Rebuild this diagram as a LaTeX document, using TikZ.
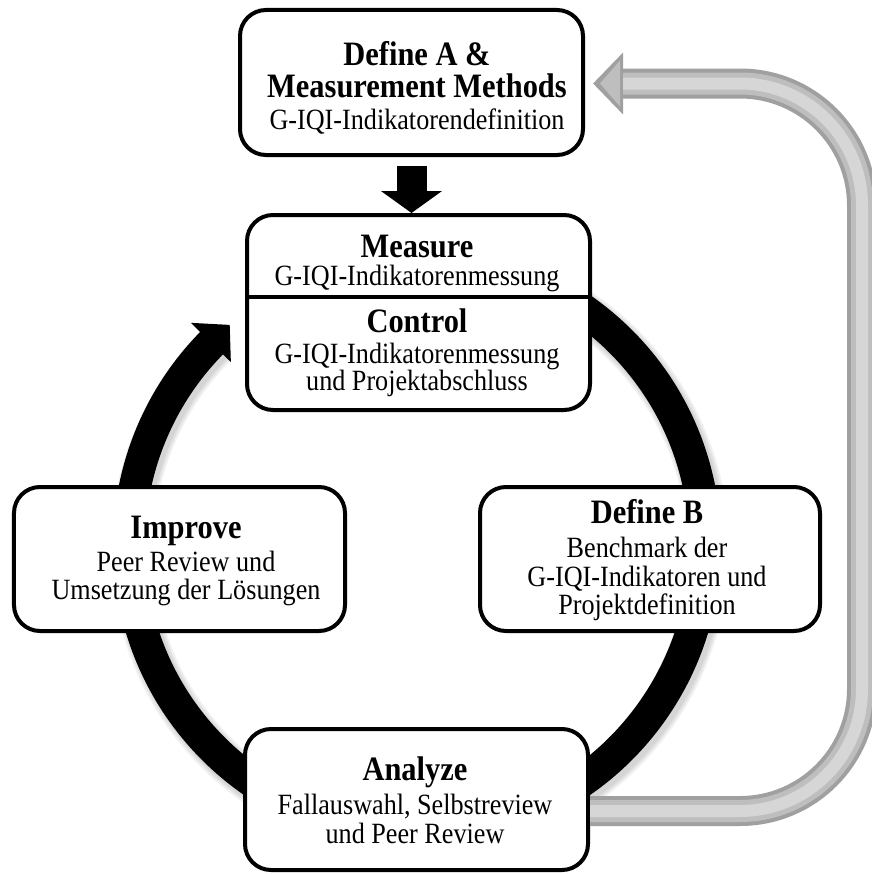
\documentclass[tikz,border=0pt]{standalone}
\usepackage{fontspec}
% Times-metric serif, set a little narrow and tall
\setmainfont{Liberation Serif}[FakeStretch=0.89]
\usetikzlibrary{calc,arrows.meta}
\definecolor{gEdge}{RGB}{160,160,160}
\definecolor{gMid}{RGB}{190,190,190}
\definecolor{gLight}{RGB}{214,214,214}
\begin{document}
\begin{tikzpicture}[x=1bp,y=-1bp,
  stagebox/.style={draw=black,line width=4bp,fill=white,rounded corners=26bp,inner sep=0pt},
  ttl/.style={anchor=base,inner sep=0pt,font=\fontsize{34.2bp}{38bp}\selectfont\bfseries},
  txt/.style={anchor=base,inner sep=0pt,font=\fontsize{29.4bp}{33bp}\selectfont},
  ring/.style={draw=black,line width=32bp},
  ringshadow/.style={draw=black,opacity=0.06},
  blockarrow/.style={draw=black,line width=30bp,-{Triangle[width=60bp,length=22bp]}},
  loopbase/.style={draw=gEdge,line width=30bp,rounded corners=122bp,-{Triangle[width=60bp,length=30bp]}},
  looplayer/.style={rounded corners=122bp}
]
\useasboundingbox (0,0) rectangle (872,874);

% cycle ring (clockwise), with a soft drop shadow
\coordinate (hub) at (417,545);
\foreach \w in {42,38,34}
  \draw[ringshadow,line width=\w bp] ($(hub)+(3,4)+(-100:288)$) arc[start angle=-100,end angle=225,radius=288];
\draw[ring] ($(hub)+(-100:288)$) arc[start angle=-100,end angle=225,radius=288];
\fill[black] ($(hub)+(224.5:317)$) -- ($(hub)+(229.6:289)$) -- ($(hub)+(224.5:261)$) -- cycle;

% stages
\node[stagebox,minimum width=343bp,minimum height=145bp] (defA) at (411.5,82.5) {};
\node[stagebox,minimum width=343bp,minimum height=195bp] (meas) at (418.5,312.5) {};
\node[stagebox,minimum width=331bp,minimum height=144bp] (impr) at (179.5,559) {};
\node[stagebox,minimum width=340bp,minimum height=144bp] (defB) at (650,559) {};
\node[stagebox,minimum width=343bp,minimum height=141bp] (anl) at (416.5,799.5) {};

% divider between Measure and Control
\coordinate (mcut) at ($(meas.center)+(0,-15.5)$);
\draw[line width=4bp] (meas.west |- mcut) -- (meas.east |- mcut);

% labels
\node[ttl] (defAt1) at (417,65) {Define A \&};
\node[ttl] (defAt2) at (417,97) {Measurement Methods};
\node[txt] (defAt3) at (417,129) {G-IQI-Indikatorendefinition};

\node[ttl] (measT1) at (417,257) {Measure};
\node[txt] (measT2) at (417,285) {G-IQI-Indikatorenmessung};
\node[ttl] (measT3) at (417,332) {Control};
\node[txt] (measT4) at (417,363) {G-IQI-Indikatorenmessung};
\node[txt] (measT5) at (417,390) {und Projektabschluss};

\node[ttl] (imprT1) at (186,538) {Improve};
\node[txt] (imprT2) at (186,571) {Peer Review und};
\node[txt] (imprT3) at (186,599) {Umsetzung der Lösungen};

\node[ttl] (defBT1) at (647,523) {Define B};
\node[txt] (defBT2) at (647,557) {Benchmark der};
\node[txt] (defBT3) at (647,586) {G-IQI-Indikatoren und};
\node[txt] (defBT4) at (647,614) {Projektdefinition};

\node[ttl] (anlT1) at (415,780) {Analyze};
\node[txt] (anlT2) at (415,814) {Fallauswahl, Selbstreview};
\node[txt] (anlT3) at (415,843) {und Peer Review};

% Define A -> Measure
\draw[blockarrow] ($(defA.south)+(0,9)$) -- (defA.south |- meas.north);

% return loop Analyze -> Define A
\coordinate (gx) at (862,0);
\coordinate (gtail) at ($(anl.east)+(0,11.5)$);
\coordinate (gtip) at ($(defA.east)+(8,1)$);
\coordinate (gbr) at (gtail -| gx);
\coordinate (gtr) at (gtip -| gx);
\coordinate (ghead) at ($(gtip)+(30,0)$);
\draw[loopbase] (gtail) -- (gbr) -- (gtr) -- (gtip);
\draw[looplayer,draw=gMid,line width=22bp] (gtail) -- (gbr) -- (gtr) -- (ghead);
\draw[looplayer,draw=gLight,line width=12bp] (gtail) -- (gbr) -- (gtr) -- (ghead);
\fill[gMid] ($(gtip)+(7,0)$) -- ($(ghead)+(-3,-23)$) -- ($(ghead)+(-3,23)$) -- cycle;
\end{tikzpicture}
\end{document}
